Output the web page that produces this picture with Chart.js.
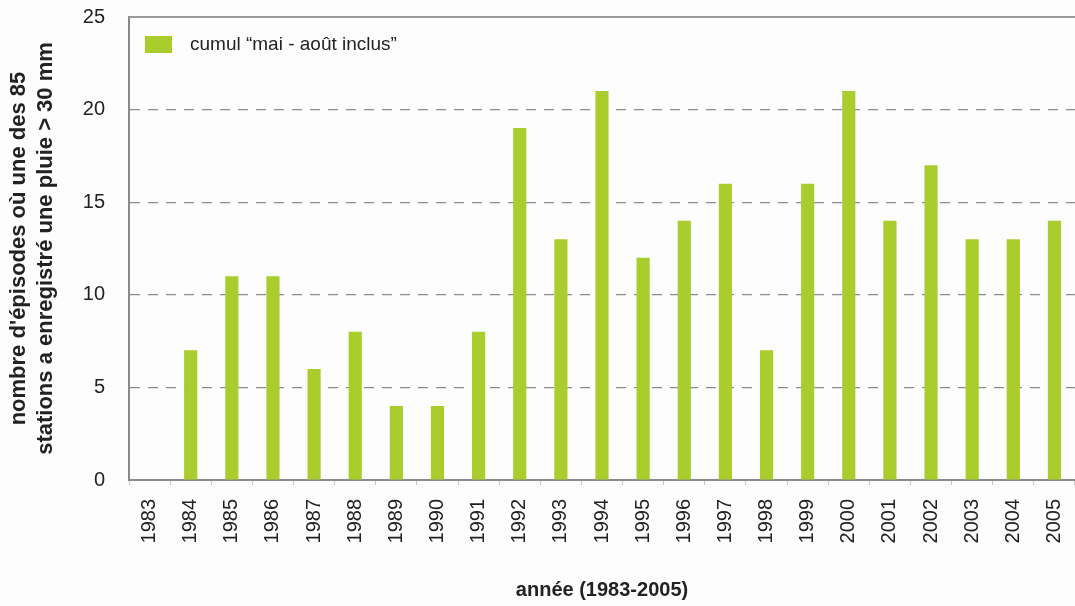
<!DOCTYPE html>
<html>
<head>
<meta charset="utf-8">
<script src="https://cdn.jsdelivr.net/npm/chart.js@4/dist/chart.umd.min.js"></script>
<style>
  html, body { margin: 0; padding: 0; background: #fdfdfd; }
  #wrap { width: 1075px; height: 606px; }
</style>
</head>
<body>
<div id="wrap"><canvas id="chart" width="1075" height="606"></canvas></div>
<script>
// years on the x axis
var annees = ["1983","1984","1985","1986","1987","1988","1989","1990","1991","1992","1993","1994",
              "1995","1996","1997","1998","1999","2000","2001","2002","2003","2004","2005"];
// number of episodes, may-august
var episodes = [0, 7, 11, 11, 6, 8, 4, 4, 8, 19, 13, 21, 12, 14, 16, 7, 16, 21, 14, 17, 13, 13, 14];
var yTicks = [0, 5, 10, 15, 20, 25];

var vert = "#a8cd2c";
var gris = "#8a8a8a";
var police = "Liberation Sans, Arial, sans-serif";

// top frame line + legend inside the plot
var cadre = {
  id: "cadre",
  afterDraw: function(chart) {
    var c = chart.ctx, a = chart.chartArea;
    var ds = chart.data.datasets[0];
    c.save();
    c.strokeStyle = "#9a9a9a";
    c.lineWidth = 2;
    c.beginPath();
    c.moveTo(a.left, a.top);
    c.lineTo(a.right, a.top);
    c.stroke();
    c.fillStyle = ds.backgroundColor;
    c.fillRect(a.left + 16, a.top + 19, 27, 17);
    c.fillStyle = "#222";
    c.font = "19px " + police;
    c.textBaseline = "middle";
    c.fillText(ds.label, a.left + 61, a.top + 28);
    c.restore();
  }
};

var ctx = document.getElementById("chart");
var myChart = new Chart(ctx, {
  type: "bar",
  data: {
    labels: annees,
    datasets: [{
      label: "cumul \u201cmai - ao\u00fbt inclus\u201d",
      data: episodes,
      backgroundColor: vert,
      borderWidth: 0,
      categoryPercentage: 1,
      barPercentage: 0.32
    }]
  },
  options: {
    responsive: false,
    animation: false,
    layout: { padding: { left: 0, right: 0, top: 17, bottom: 0 } },
    plugins: {
      tooltip: { enabled: false },
      legend: { display: false }
    },
    scales: {
      x: {
        grid: { display: true, drawOnChartArea: false, offset: true, tickLength: 5, color: "#c8c8c8" },
        border: { display: true, color: gris, width: 2 },
        ticks: {
          minRotation: 90, maxRotation: 90, padding: 14,
          color: "#222",
          font: { family: police, size: 20 }
        },
        title: {
          display: true,
          text: "année (1983-2005)",
          color: "#222",
          padding: { top: 0, bottom: 4 },
          font: { family: police, size: 20, weight: "bold" }
        },
        afterFit: function(scale) {
          scale.height = 126;
          scale.paddingLeft = 0;
          scale.paddingRight = 0;
        }
      },
      y: {
        min: 0, max: 25,
        afterBuildTicks: function(scale) {
          scale.ticks = yTicks.map(function(v) { return { value: v }; });
        },
        grid: {
          color: function(c) { return (c.tick.value === 0 || c.tick.value === 25) ? "rgba(0,0,0,0)" : "#8c8c8c"; },
          drawTicks: false,
          lineWidth: 1.2
        },
        border: { display: true, color: gris, width: 2, dash: [10, 8] },
        ticks: {
          padding: 24,
          color: "#222",
          font: { family: police, size: 20 }
        },
        title: {
          display: true,
          text: ["nombre d'épisodes où une des 85", "stations a enregistré une pluie > 30 mm"],
          color: "#222",
          padding: { top: 6, bottom: 0 },
          font: { family: police, size: 22, weight: "bold", lineHeight: 1.2 }
        },
        afterFit: function(scale) {
          scale.width = 129;
          scale.paddingTop = 0;
          scale.paddingBottom = 0;
        }
      }
    }
  },
  plugins: [cadre]
});
</script>
</body>
</html>
